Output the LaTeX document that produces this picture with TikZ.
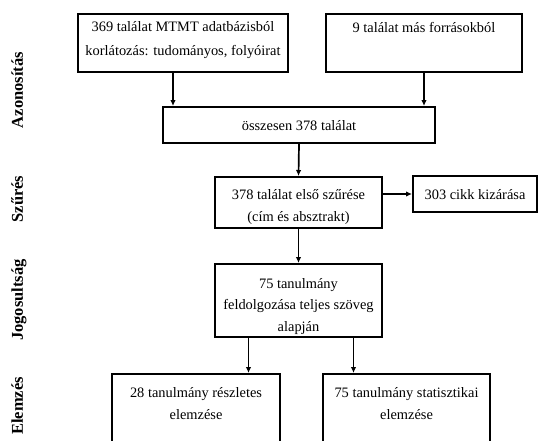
\documentclass[tikz,border=0pt]{standalone}
\usepackage{fontspec}
\setmainfont{Liberation Serif}
\usetikzlibrary{arrows.meta}

\begin{document}
\begin{tikzpicture}[x=1pt,y=-1pt,
    every node/.style={font=\fontsize{14.4}{21.5}\selectfont},
    box/.style={draw,line width=2pt,align=center,anchor=north,inner xsep=3pt,inner ysep=0pt},
    phase/.style={rotate=90,anchor=base,font=\fontsize{16.5}{18}\selectfont\bfseries},
    arr/.style={-{Latex[length=6pt,width=5.5pt]},line width=1.7pt}]
  \useasboundingbox (0,0) rectangle (549,440);
  % phases on the left
  \node[phase] (ident) at (23,90) {Azonosítás};
  \node[phase] (screen) at (23,199) {Szűrés};
  \node[phase] (elig) at (23,300) {Jogosultság};
  \node[phase] (anal) at (23,406) {Elemzés};
  % boxes
  \node[box,minimum width=210pt,text height=41pt,text depth=17pt] (mtmt) at (183,13)
     {369 találat MTMT adatbázisból\\[2.5pt]korlátozás: tudományos, folyóirat};
  \node[box,minimum width=196pt,text height=18pt,text depth=40pt] (other) at (424,13)
     {9 találat más forrásokból};
  \node[box,minimum width=272pt,text height=23pt,text depth=13pt] (total) at (299,106)
     {összesen 378 találat};
  \node[box,minimum width=167pt,text height=44pt,text depth=7pt] (first) at (298.5,176)
     {378 találat első szűrése\\(cím és absztrakt)};
  \node[box,minimum width=124pt,text height=23pt,text depth=13pt] (excl) at (475,175)
     {303 cikk kizárása};
  \node[box,minimum width=167pt,text height=67pt,text depth=6pt] (full) at (298.5,263)
     {75 tanulmány\\feldolgozása teljes szöveg\\alapján};
  \node[box,minimum width=168pt,text height=45pt,text depth=50pt] (detail) at (196,373)
     {28 tanulmány részletes\\elemzése};
  \node[box,minimum width=167pt,text height=45pt,text depth=50pt] (stat) at (406.5,373)
     {75 tanulmány statisztikai\\elemzése};
  % arrows
  \draw[arr] ([xshift=-10pt]mtmt.south) -- ([xshift=-10pt]mtmt.south |- total.north);
  \draw[arr] (other.south) -- (other.south |- total.north);
  \draw[arr] (total.south) -- (first.north);
  \draw[arr] (first.east |- excl.west) -- (excl.west);
  \draw[arr] (first.south) -- (full.north);
  \foreach \dx/\t in {-50/detail,55/stat}
     \draw[arr] ([xshift=\dx pt]full.south) -- ([xshift=\dx pt]full.south |- \t.north);
\end{tikzpicture}
\end{document}
